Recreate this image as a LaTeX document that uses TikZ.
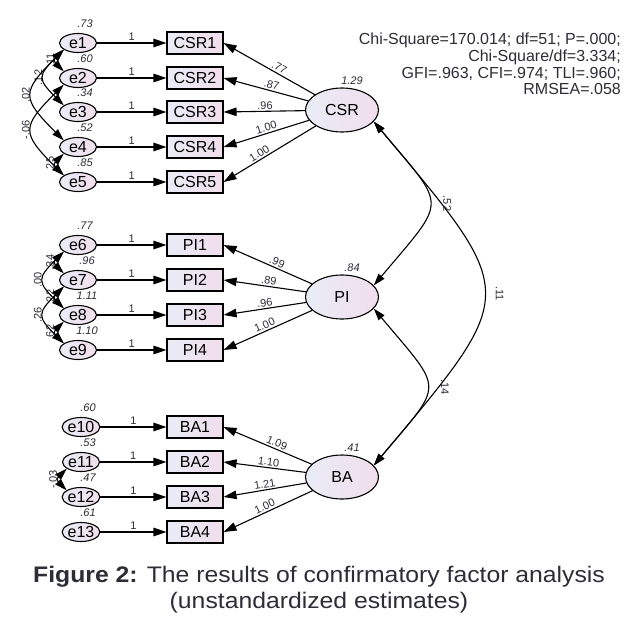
\documentclass[tikz,border=0pt]{standalone}
\usepackage{fontspec}
\setmainfont{Liberation Sans}
\newfontfamily\captionfont[FakeStretch=1.1]{Liberation Sans}
\usetikzlibrary{arrows.meta,shapes.geometric}

\definecolor{shadeL}{RGB}{232,236,246}
\definecolor{shadeR}{RGB}{241,222,236}
\definecolor{numgray}{RGB}{45,45,55}

\begin{document}
\begin{tikzpicture}[x=1pt, y=1pt,
        err_node/.style={ellipse, draw, line width=1.1pt, minimum width=37pt, minimum height=19pt, inner sep=0pt, left color=shadeL, right color=shadeR, font=\fontsize{16}{16}\selectfont},
        item_box/.style={rectangle, draw, line width=1.1pt, minimum width=56pt, minimum height=22pt, inner sep=0pt, left color=shadeL, right color=shadeR, font=\fontsize{16}{16}\selectfont},
        latent_node/.style={ellipse, draw, line width=1.1pt, minimum width=73pt, minimum height=44pt, inner sep=0pt, left color=shadeL, right color=shadeR, font=\fontsize{16}{16}\selectfont},
        var_label/.style={font=\fontsize{11}{11}\selectfont\itshape, text=numgray, inner sep=1pt},
        coef_label/.style={font=\fontsize{11}{11}\selectfont, text=numgray, inner sep=1.5pt},
        side_label/.style={coef_label, rotate=-90},
        path_arrow/.style={line width=1.1pt, -{Triangle[length=13pt, width=8.5pt]}},
        cov_arrow/.style={line width=1.1pt, {Triangle[length=12pt, width=7.5pt]}-{Triangle[length=12pt, width=7.5pt]}},
        side_cov/.style={cov_arrow, bend left=45, looseness=1.7},
        factor_cov/.style={cov_arrow, out=-50, in=50, looseness=1.8}
    ]
        \path[use as bounding box, fill=white] (0,0) rectangle (638,-627);

        % Error terms
        \node[err_node, label={[var_label, xshift=7pt, yshift=4pt]above:.73}] (e1) at (78,-43) {e1};
        \node[err_node, label={[var_label, xshift=7pt, yshift=4pt]above:.60}] (e2) at (78,-78) {e2};
        \node[err_node, label={[var_label, xshift=7pt, yshift=4pt]above:.34}] (e3) at (78,-112) {e3};
        \node[err_node, label={[var_label, xshift=7pt, yshift=4pt]above:.52}] (e4) at (78,-147) {e4};
        \node[err_node, label={[var_label, xshift=7pt, yshift=4pt]above:.85}] (e5) at (78,-182) {e5};
        \node[err_node, label={[var_label, xshift=7pt, yshift=4pt]above:.77}] (e6) at (78,-245) {e6};
        \node[err_node, label={[var_label, xshift=9pt, yshift=4pt]above:.96}] (e7) at (78,-280) {e7};
        \node[err_node, label={[var_label, xshift=9pt, yshift=4pt]above:1.11}] (e8) at (78,-315) {e8};
        \node[err_node, label={[var_label, xshift=9pt, yshift=4pt]above:1.10}] (e9) at (78,-350) {e9};
        \node[err_node, label={[var_label, xshift=7pt, yshift=4pt]above:.60}] (e10) at (81,-427) {e10};
        \node[err_node, label={[var_label, xshift=7pt, yshift=4pt]above:.53}] (e11) at (81,-462) {e11};
        \node[err_node, label={[var_label, xshift=7pt, yshift=4pt]above:.47}] (e12) at (81,-497) {e12};
        \node[err_node, label={[var_label, xshift=7pt, yshift=4pt]above:.61}] (e13) at (81,-532) {e13};

        % Indicators
        \node[item_box] (CSR1) at (195,-43) {CSR1};
        \node[item_box] (CSR2) at (195,-78) {CSR2};
        \node[item_box] (CSR3) at (195,-112) {CSR3};
        \node[item_box] (CSR4) at (195,-147) {CSR4};
        \node[item_box] (CSR5) at (195,-182) {CSR5};
        \node[item_box] (PI1) at (195,-245) {PI1};
        \node[item_box] (PI2) at (195,-280) {PI2};
        \node[item_box] (PI3) at (195,-315) {PI3};
        \node[item_box] (PI4) at (195,-350) {PI4};
        \node[item_box] (BA1) at (195,-427) {BA1};
        \node[item_box] (BA2) at (195,-462) {BA2};
        \node[item_box] (BA3) at (195,-497) {BA3};
        \node[item_box] (BA4) at (195,-532) {BA4};

        % Latent factors
        \node[latent_node, label={[var_label, xshift=10pt, yshift=2pt]above:1.29}] (CSR) at (342,-110) {CSR};
        \node[latent_node, label={[var_label, xshift=10pt, yshift=2pt]above:.84}] (PI) at (342,-297) {PI};
        \node[latent_node, label={[var_label, xshift=10pt, yshift=2pt]above:.41}] (BA) at (342,-477) {BA};

        % Error paths
        \draw[path_arrow] (e1) -- node[coef_label, above] {1} (CSR1);
        \draw[path_arrow] (e2) -- node[coef_label, above] {1} (CSR2);
        \draw[path_arrow] (e3) -- node[coef_label, above] {1} (CSR3);
        \draw[path_arrow] (e4) -- node[coef_label, above] {1} (CSR4);
        \draw[path_arrow] (e5) -- node[coef_label, above] {1} (CSR5);
        \draw[path_arrow] (e6) -- node[coef_label, above] {1} (PI1);
        \draw[path_arrow] (e7) -- node[coef_label, above] {1} (PI2);
        \draw[path_arrow] (e8) -- node[coef_label, above] {1} (PI3);
        \draw[path_arrow] (e9) -- node[coef_label, above] {1} (PI4);
        \draw[path_arrow] (e10) -- node[coef_label, above] {1} (BA1);
        \draw[path_arrow] (e11) -- node[coef_label, above] {1} (BA2);
        \draw[path_arrow] (e12) -- node[coef_label, above] {1} (BA3);
        \draw[path_arrow] (e13) -- node[coef_label, above] {1} (BA4);

        % Loadings
        \draw[path_arrow] (CSR) -- node[coef_label, sloped, above, pos=0.42] {.77} (CSR1.east);
        \draw[path_arrow] (CSR) -- node[coef_label, sloped, above, pos=0.45] {.87} (CSR2.east);
        \draw[path_arrow] (CSR) -- node[coef_label, sloped, above, pos=0.49] {.96} (CSR3.east);
        \draw[path_arrow] (CSR) -- node[coef_label, sloped, above, pos=0.48] {1.00} (CSR4.east);
        \draw[path_arrow] (CSR) -- node[coef_label, sloped, above, pos=0.58] {1.00} (CSR5.east);
        \draw[path_arrow] (PI) -- node[coef_label, sloped, above, pos=0.42] {.99} (PI1.east);
        \draw[path_arrow] (PI) -- node[coef_label, sloped, above, pos=0.46] {.89} (PI2.east);
        \draw[path_arrow] (PI) -- node[coef_label, sloped, above, pos=0.49] {.96} (PI3.east);
        \draw[path_arrow] (PI) -- node[coef_label, sloped, above, pos=0.51] {1.00} (PI4.east);
        \draw[path_arrow] (BA) -- node[coef_label, sloped, above, pos=0.42] {1.09} (BA1.east);
        \draw[path_arrow] (BA) -- node[coef_label, sloped, above, pos=0.46] {1.10} (BA2.east);
        \draw[path_arrow] (BA) -- node[coef_label, sloped, above, pos=0.49] {1.21} (BA3.east);
        \draw[path_arrow] (BA) -- node[coef_label, sloped, above, pos=0.51] {1.00} (BA4.east);

        % Error covariances
        \draw[side_cov] (e2.155) to node[coef_label, sloped, above] {.11} (e1.205);
        \draw[side_cov] (e3.155) to node[coef_label, sloped, above] {.12} (e1.205);
        \draw[side_cov] (e4.155) to node[coef_label, sloped, above] {.02} (e1.205);
        \draw[side_cov] (e5.155) to node[coef_label, sloped, above] {-.06} (e2.205);
        \draw[side_cov] (e5.155) to node[coef_label, sloped, above] {.25} (e4.205);
        \draw[side_cov] (e7.155) to node[coef_label, sloped, above] {.34} (e6.205);
        \draw[side_cov] (e8.155) to node[coef_label, sloped, above] {.00} (e6.205);
        \draw[side_cov] (e8.155) to node[coef_label, sloped, above] {.22} (e7.205);
        \draw[side_cov] (e9.155) to node[coef_label, sloped, above] {.26} (e7.205);
        \draw[side_cov] (e9.155) to node[coef_label, sloped, above] {.62} (e8.205);
        \draw[side_cov] (e12.155) to node[coef_label, sloped, above] {-.03} (e11.205);

        % Factor covariances
        \draw[factor_cov] (CSR.-20) to coordinate[midway] (mid_csr_pi) (PI.20);
        \draw[factor_cov, looseness=1.7] (CSR.-20) to coordinate[midway] (mid_csr_ba) (BA.20);
        \draw[factor_cov] (PI.-20) to coordinate[midway] (mid_pi_ba) (BA.20);
        \node[side_label] (lab_csr_pi) at ([xshift=18pt]mid_csr_pi) {.52};
        \node[side_label] (lab_csr_ba) at ([xshift=16pt]mid_csr_ba) {.11};
        \node[side_label] (lab_pi_ba) at ([xshift=18pt]mid_pi_ba) {.14};

        % Fit indices
        \node[anchor=north east, align=right, inner sep=0pt, font=\fontsize{16}{16.7}\selectfont, text=numgray] (fit) at (621,-33) {Chi-Square=170.014; df=51; P=.000;\\Chi-Square/df=3.334;\\GFI=.963, CFI=.974; TLI=.960;\\RMSEA=.058};

        % Caption
        \node[align=center, inner sep=0pt, font=\captionfont\fontsize{22.5}{26}\selectfont, text=numgray] (caption) at (319,-590) {\textbf{Figure 2:} The results of confirmatory factor analysis\\(unstandardized estimates)};
    \end{tikzpicture}
\end{document}
